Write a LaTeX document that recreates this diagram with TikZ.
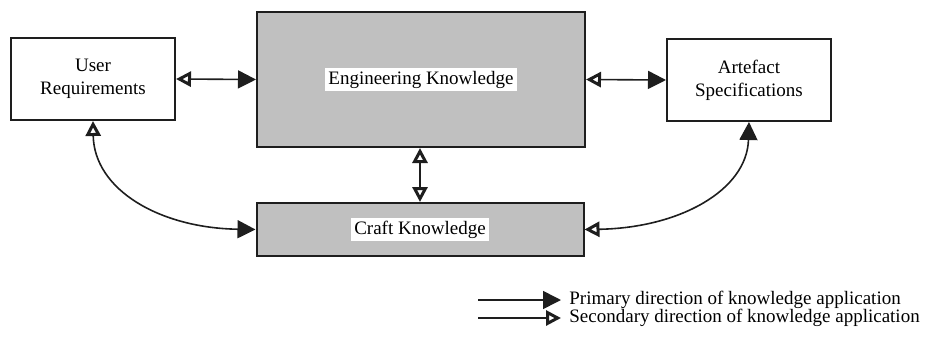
\documentclass[tikz,border=0pt]{standalone}
\usepackage{fontspec}
\setmainfont{Liberation Serif}
\usetikzlibrary{arrows.meta}
\definecolor{shade}{RGB}{192,192,192}
\definecolor{ink}{RGB}{30,30,30}
\begin{document}
\begin{tikzpicture}[x=0.5pt,y=-0.5pt,
  font=\fontsize{9.5}{11.5}\selectfont,
  box/.style={draw=ink,line width=1pt,rectangle,align=center,inner sep=0pt},
  greybox/.style={box,fill=shade},
  tag/.style={fill=white,inner sep=1.5pt},
  solidtip/.tip={Triangle[length=9pt,width=9pt]},
  hollowtip/.tip={Triangle[length=7.5pt,width=7.5pt,fill=white,line width=1.5pt]},
  link/.style={draw=ink,line width=0.8pt}]
\useasboundingbox (0,0) rectangle (928,349);

% main blocks
\node[box,minimum width=82pt,minimum height=41pt] (ur) at (93,79) {User\\Requirements};
\node[greybox,minimum width=164pt,minimum height=67.5pt] (ek) at (421,79.5) {};
\node[tag] (ekl) at (ek.center) {Engineering Knowledge};
\node[box,minimum width=82pt,minimum height=41pt] (as) at (749,80) {Artefact\\Specifications};
\node[greybox,minimum width=163.5pt,minimum height=26.5pt] (ck) at (420,229.5) {};
\node[tag] (ckl) at (ck.center) {Craft Knowledge};

% connectors between the blocks
\draw[link,{hollowtip}-{solidtip}] (ur.east) -- (ek.west);
\draw[link,{hollowtip}-{solidtip}] (ek.east) -- (as.west);
\draw[link,{hollowtip}-{hollowtip}] (ek.south -| ck.north) -- (ck.north);
\draw[link,{hollowtip}-{solidtip}] (ur.south) .. controls (94,190) and (160,228) .. (ck.west);
\draw[link,{solidtip}-{hollowtip}] (as.south) .. controls (747,190) and (680,228) .. (ck.east);

% legend
\coordinate (p0) at (478,300);
\coordinate (s0) at (478,318);
\node[anchor=west,inner sep=4pt] (pl) at (561,300) {Primary direction of knowledge application};
\node[anchor=west,inner sep=4pt] (sl) at (561,318) {Secondary direction of knowledge application};
\draw[link,-{solidtip}] (p0) -- (pl.west);
\draw[link,-{hollowtip}] (s0) -- (sl.west);
\end{tikzpicture}
\end{document}
